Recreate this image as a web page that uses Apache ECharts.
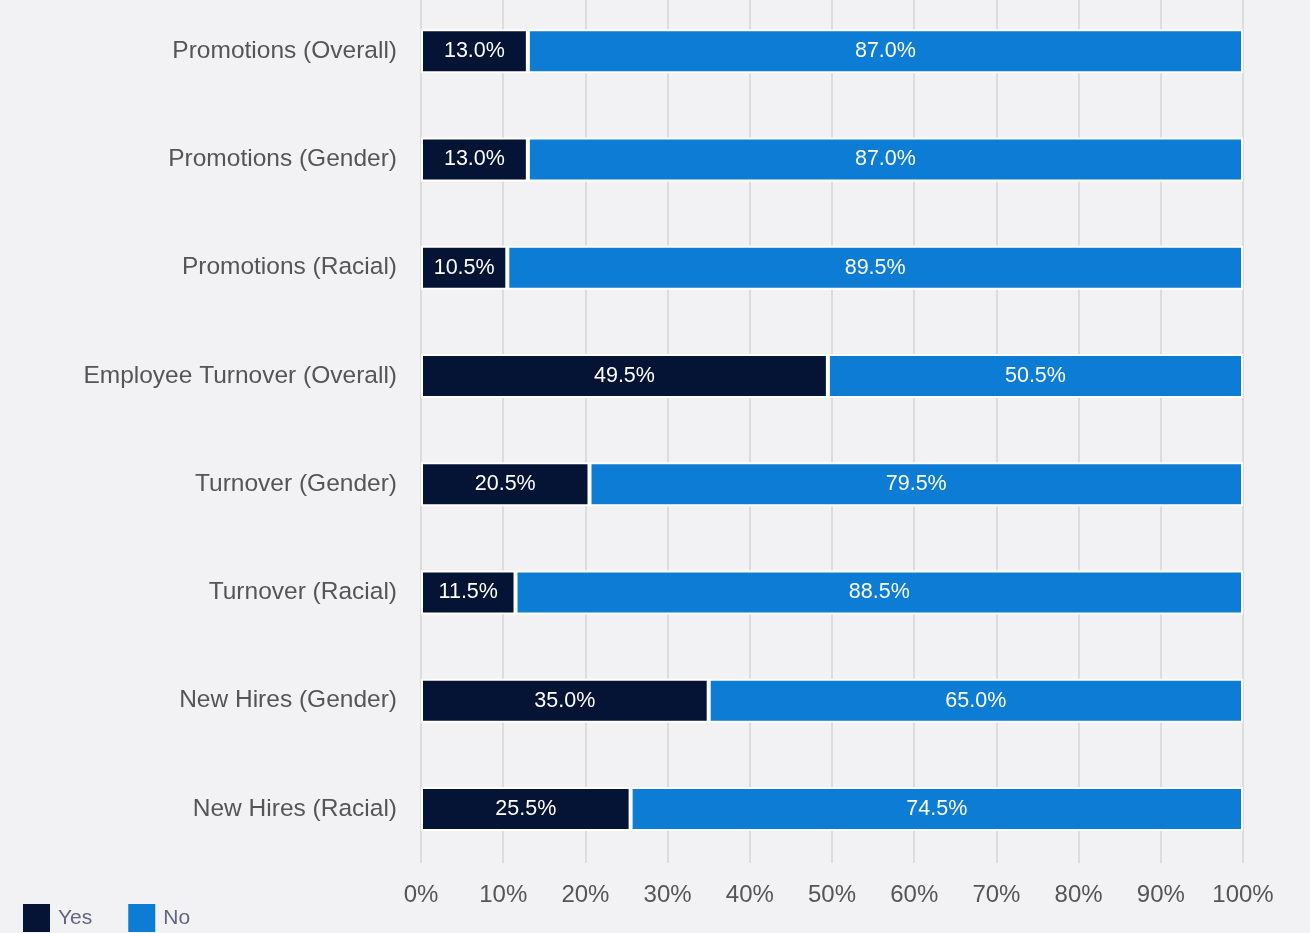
<!DOCTYPE html>
<html>
<head>
<meta charset="utf-8">
<script src="https://cdn.jsdelivr.net/npm/echarts@6/dist/echarts.min.js"></script>
<style>
  html, body { margin: 0; padding: 0; background: #f2f2f4; overflow: hidden; }
  /* the plot starts a few pixels above the page edge */
  #chart { width: 1310px; height: 938px; margin-top: -5px; }
</style>
</head>
<body>
<div id="chart"></div>
<script>
// Share of respondents answering Yes / No per metric (percent)
const categories = [
  'Promotions (Overall)',
  'Promotions (Gender)',
  'Promotions (Racial)',
  'Employee Turnover (Overall)',
  'Turnover (Gender)',
  'Turnover (Racial)',
  'New Hires (Gender)',
  'New Hires (Racial)'
];
const yesValues = [13.0, 13.0, 10.5, 49.5, 20.5, 11.5, 35.0, 25.5];
const noValues = [87.0, 87.0, 89.5, 50.5, 79.5, 88.5, 65.0, 74.5];
const xTicks = [0, 10, 20, 30, 40, 50, 60, 70, 80, 90, 100];

const FONT = '"Liberation Sans", Arial, sans-serif';
const chart = echarts.init(document.getElementById('chart'));

const barLabel = {
  show: true,
  position: 'inside',
  color: '#ffffff',
  fontFamily: FONT,
  fontSize: 21.5,
  formatter: p => p.value.toFixed(1) + '%'
};

chart.setOption({
  backgroundColor: '#f2f2f4',
  animation: false,
  grid: { left: 421, right: 67, top: 2, bottom: 70, containLabel: false },
  legend: {
    left: 23,
    top: 909,
    padding: 0,
    itemWidth: 27,
    itemHeight: 28,
    itemGap: 36,
    icon: 'rect',
    itemStyle: { borderWidth: 0 },
    textStyle: { color: '#5f6680', fontFamily: FONT, fontSize: 21, padding: [0, 0, 0, 3] },
    data: ['Yes', 'No']
  },
  xAxis: {
    type: 'value',
    min: 0,
    max: 100,
    interval: 10,
    axisLine: { show: false },
    axisTick: { show: false },
    splitLine: { show: true, lineStyle: { color: '#dcdcde', width: 2 } },
    axisLabel: {
      color: '#555555',
      fontFamily: FONT,
      fontSize: 24,
      margin: 20,
      formatter: v => (xTicks.includes(v) ? v + '%' : '')
    }
  },
  yAxis: {
    type: 'category',
    inverse: true,
    data: categories,
    axisLine: { show: false },
    axisTick: { show: false },
    axisLabel: { color: '#555555', fontFamily: FONT, fontSize: 24.5, margin: 24 }
  },
  series: [
    {
      name: 'Yes',
      type: 'bar',
      stack: 'total',
      barWidth: 44,
      data: yesValues,
      itemStyle: { color: '#051335', borderColor: '#ffffff', borderWidth: 2 },
      label: barLabel
    },
    {
      name: 'No',
      type: 'bar',
      stack: 'total',
      barWidth: 44,
      data: noValues,
      itemStyle: { color: '#0c7cd5', borderColor: '#ffffff', borderWidth: 2 },
      label: barLabel
    }
  ]
});
</script>
</body>
</html>
